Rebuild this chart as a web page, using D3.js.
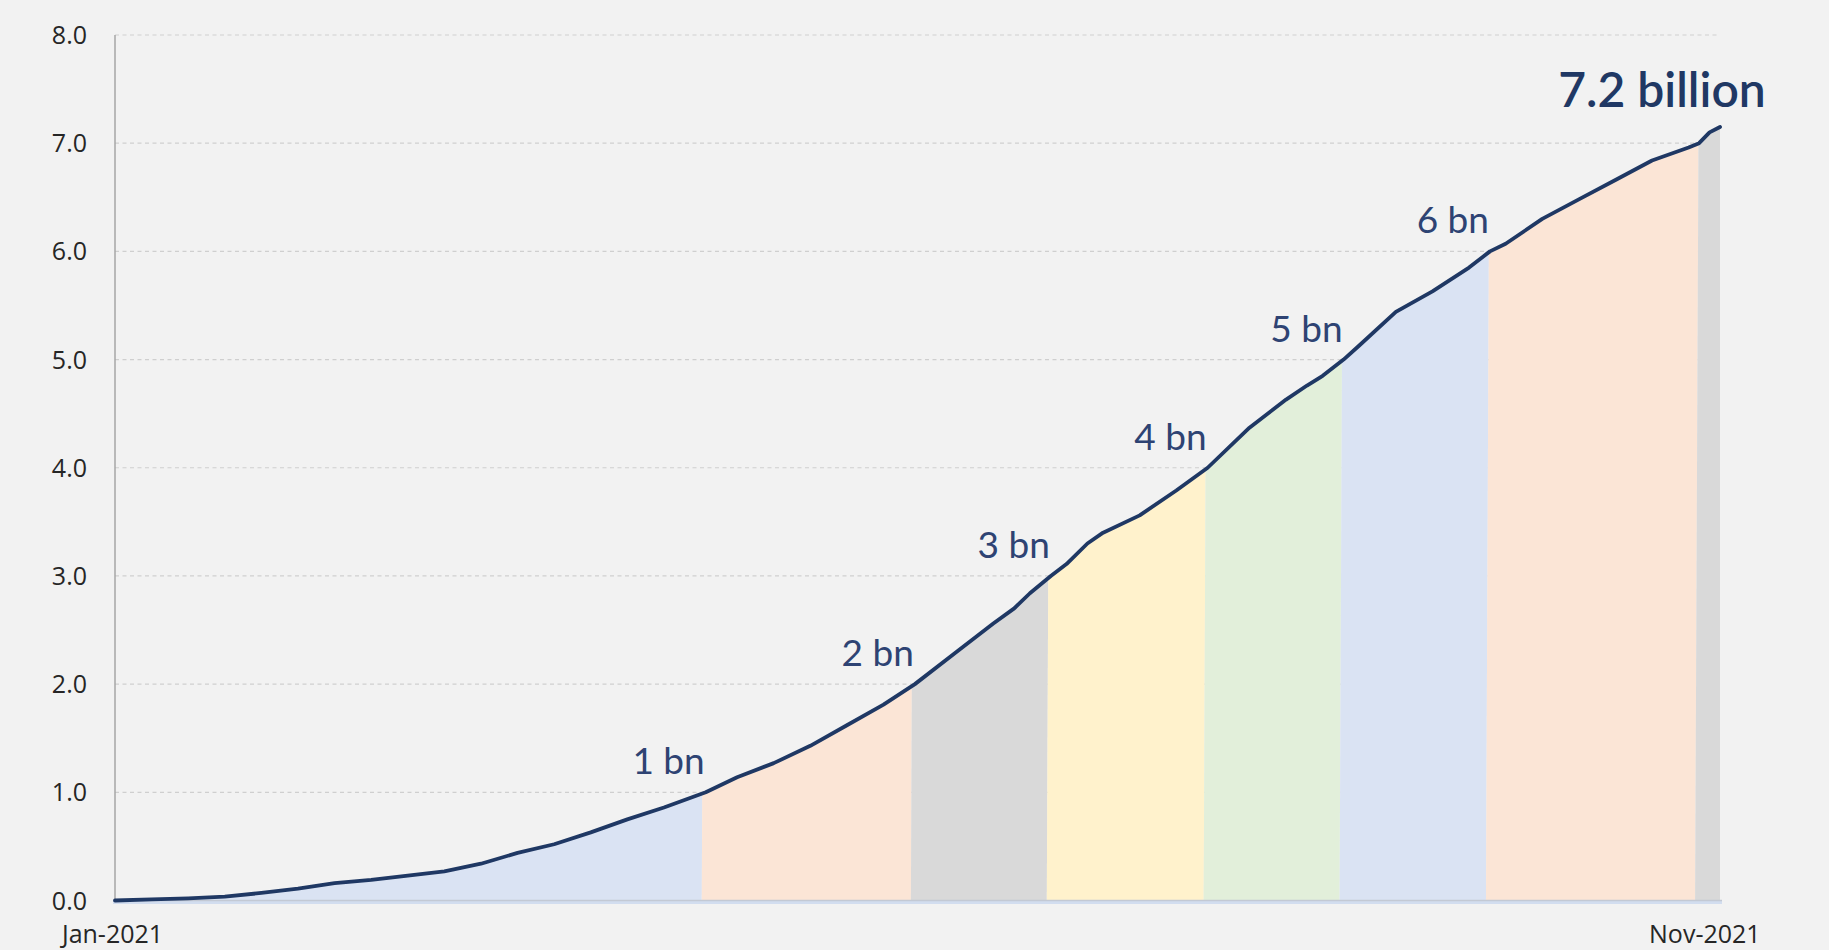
<!DOCTYPE html>
<html>
<head>
<meta charset="utf-8">
<script src="https://cdn.jsdelivr.net/npm/d3@7"></script>
<style>
  html, body { margin: 0; padding: 0; background: #f2f2f2; }
  svg { display: block; }
</style>
</head>
<body>
<div id="chart"></div>
<script>
// cumulative doses administered worldwide (billions)
const dates = [
  "2021-01-01", "2021-01-08", "2021-01-15", "2021-01-22", "2021-01-29",
  "2021-02-05", "2021-02-12", "2021-02-19", "2021-02-26", "2021-03-05",
  "2021-03-12", "2021-03-19", "2021-03-26", "2021-04-02", "2021-04-09",
  "2021-04-16", "2021-04-24", "2021-04-30", "2021-05-07", "2021-05-14",
  "2021-05-21", "2021-05-28", "2021-06-03", "2021-06-11", "2021-06-18",
  "2021-06-22", "2021-06-25", "2021-06-29", "2021-07-02", "2021-07-06",
  "2021-07-09", "2021-07-16", "2021-07-23", "2021-07-29", "2021-08-06",
  "2021-08-13", "2021-08-17", "2021-08-20", "2021-08-24", "2021-08-27",
  "2021-09-03", "2021-09-10", "2021-09-17", "2021-09-21", "2021-09-24",
  "2021-10-01", "2021-10-08", "2021-10-15", "2021-10-22", "2021-10-29",
  "2021-10-31", "2021-11-02", "2021-11-04"
];
const doses = [
  0.00, 0.01, 0.02, 0.035, 0.07,
  0.11, 0.16, 0.19, 0.23, 0.27,
  0.34, 0.44, 0.52, 0.63, 0.75,
  0.86, 1.00, 1.14, 1.27, 1.43,
  1.62, 1.81, 2.00, 2.30, 2.56,
  2.70, 2.84, 3.00, 3.11, 3.30,
  3.40, 3.56, 3.79, 4.00, 4.37,
  4.63, 4.76, 4.85, 5.00, 5.13,
  5.44, 5.63, 5.85, 6.00, 6.07,
  6.30, 6.48, 6.66, 6.84, 6.96,
  7.00, 7.10, 7.15
];

// dates where each billion was passed
const milestoneDates = ["2021-04-24", "2021-06-03", "2021-06-29", "2021-07-29", "2021-08-24", "2021-09-21", "2021-10-31"];
const milestoneValues = [1, 2, 3, 4, 5, 6, 7];
const milestoneLabels = ["1 bn", "2 bn", "3 bn", "4 bn", "5 bn", "6 bn", ""];
const bandColors = ["#dae3f3", "#fbe5d6", "#d9d9d9", "#fff2cc", "#e2efda", "#dae3f3", "#fbe5d6", "#d9d9d9"];

const yTicks = [0, 1, 2, 3, 4, 5, 6, 7, 8];
const xTickDates = ["2021-01-01", "2021-11-01"];
const totalLabel = "7.2 billion";

const width = 1829;
const height = 950;
const margin = { top: 35, right: 109, bottom: 49.5, left: 115 };

const parse = d3.timeParse("%Y-%m-%d");
const data = dates.map((d, i) => ({ date: parse(d), value: doses[i] }));

const svg = d3.select("#chart")
  .append("svg")
  .attr("width", width)
  .attr("height", height);

svg.append("rect")
  .attr("width", width)
  .attr("height", height)
  .attr("fill", "#f2f2f2");

const x = d3.scaleTime()
  .domain(d3.extent(data, d => d.date))
  .range([margin.left, width - margin.right]);

const y = d3.scaleLinear()
  .domain([0, 8])
  .range([height - margin.bottom, margin.top]);

const y0 = y(0);

// grid lines
svg.append("g")
  .attr("class", "grid")
  .selectAll("line")
  .data(yTicks.filter(t => t > 0))
  .enter()
  .append("line")
  .attr("x1", margin.left)
  .attr("x2", width - margin.right)
  .attr("y1", d => y(d))
  .attr("y2", d => y(d))
  .attr("stroke", "#cfcfcf")
  .attr("stroke-width", 1.2)
  .attr("stroke-dasharray", "4,3.5");

// y axis labels
const yAxis = svg.append("g")
  .attr("transform", `translate(${margin.left - 28},0)`)
  .call(d3.axisLeft(y).tickValues(yTicks).tickFormat(d3.format(".1f")).tickSize(0));
yAxis.select(".domain").remove();
yAxis.selectAll("text")
  .attr("x", 0)
  .attr("dy", "0.34em")
  .attr("fill", "#262626")
  .style("font-family", "'Open Sans', 'Noto Sans', sans-serif")
  .style("font-size", "25px");

// coloured bands between milestones
const bounds = [data[0].date, ...milestoneDates.map(parse), data[data.length - 1].date];
const area = d3.area()
  .x(d => x(d.date))
  .y0(y0)
  .y1(d => y(d.value));

const defs = svg.append("defs");
const slant = 4;
bandColors.forEach((c, i) => {
  const xa = x(bounds[i]);
  const xb = x(bounds[i + 1]);
  const sa = i === 0 ? 0 : slant;
  const sb = i === bandColors.length - 1 ? 0 : slant;
  defs.append("clipPath")
    .attr("id", `band-${i}`)
    .append("path")
    .attr("d", `M${xa},0 L${xb},0 L${xb - sb},${y0} L${xa - sa},${y0} Z`);
});

svg.append("g")
  .attr("class", "bands")
  .selectAll("path")
  .data(bandColors)
  .enter()
  .append("path")
  .attr("d", area(data))
  .attr("fill", d => d)
  .attr("clip-path", (d, i) => `url(#band-${i})`);

// y axis line
svg.append("line")
  .attr("x1", margin.left)
  .attr("x2", margin.left)
  .attr("y1", margin.top)
  .attr("y2", y0)
  .attr("stroke", "#a6a6a6")
  .attr("stroke-width", 1.5);

// baseline strip
svg.append("rect")
  .attr("x", margin.left - 2)
  .attr("y", y0)
  .attr("width", width - margin.right - margin.left + 4)
  .attr("height", 3.5)
  .attr("fill", "#d2ddef");
svg.append("line")
  .attr("x1", margin.left - 2)
  .attr("x2", width - margin.right + 2)
  .attr("y1", y0)
  .attr("y2", y0)
  .attr("stroke", "#c3c9d4")
  .attr("stroke-width", 1.5);

// cumulative line
const line = d3.line()
  .x(d => x(d.date))
  .y(d => y(d.value));

svg.append("path")
  .datum(data)
  .attr("d", line)
  .attr("fill", "none")
  .attr("stroke", "#1f3864")
  .attr("stroke-width", 3.8)
  .attr("stroke-linejoin", "round")
  .attr("stroke-linecap", "round");

// x axis labels
const xAxis = svg.append("g")
  .attr("transform", `translate(0,${y0})`)
  .call(d3.axisBottom(x)
    .tickValues(xTickDates.map(parse))
    .tickFormat(d3.timeFormat("%b-%Y"))
    .tickSize(0));
xAxis.select(".domain").remove();
xAxis.selectAll("text")
  .attr("y", 42)
  .attr("dy", 0)
  .attr("fill", "#262626")
  .style("font-family", "'Open Sans', 'Noto Sans', sans-serif")
  .style("font-size", "25px");
xAxis.select(".tick text").attr("dx", -3);

// milestone labels
svg.append("g")
  .attr("class", "milestones")
  .selectAll("text")
  .data(milestoneLabels.map((t, i) => ({ t, date: parse(milestoneDates[i]), v: milestoneValues[i] })).filter(d => d.t))
  .enter()
  .append("text")
  .attr("x", d => x(d.date) - 1)
  .attr("y", d => y(d.v) - 18)
  .attr("text-anchor", "end")
  .attr("fill", "#2e4373")
  .style("font-family", "Lato, 'Open Sans', sans-serif")
  .style("font-size", "37px")
  .text(d => d.t);

// total label at the end of the line
const last = data[data.length - 1];
svg.append("text")
  .attr("x", x(last.date) - 58)
  .attr("y", y(last.value) - 20)
  .attr("text-anchor", "middle")
  .attr("fill", "#203864")
  .style("font-family", "Lato, 'Open Sans', sans-serif")
  .style("font-size", "48px")
  .style("font-weight", 600)
  .text(totalLabel);
</script>
</body>
</html>
